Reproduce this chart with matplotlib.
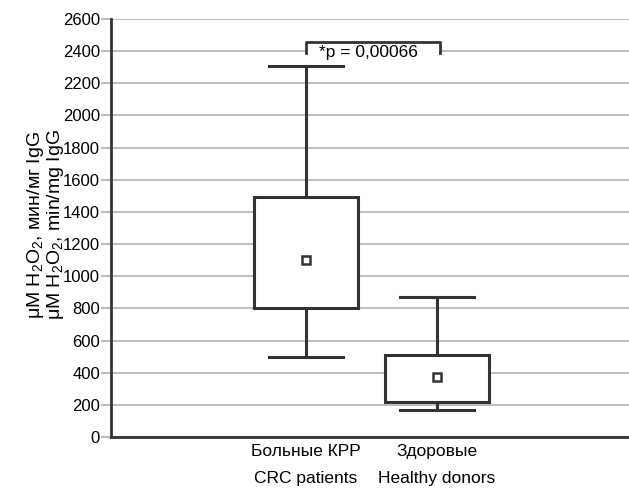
import matplotlib
matplotlib.use("Agg")
import matplotlib.pyplot as plt
from matplotlib.patches import Rectangle

groups = ["Больные КРР\nCRC patients", "Здоровые\nHealthy donors"]
q1 = [800, 220]
q3 = [1490, 510]
med = [1100, 375]
whislo = [500, 170]
whishi = [2310, 870]
yticks = list(range(0, 2601, 200))
ptext = "*p = 0,00066"

fam = ["Liberation Sans Narrow", "Liberation Sans", "DejaVu Sans"]
plt.rcParams['font.family'] = fam
plt.rcParams['mathtext.fontset'] = 'custom'
plt.rcParams['mathtext.rm'] = 'Liberation Sans'
plt.rcParams['mathtext.it'] = 'Liberation Sans'

fig = plt.figure(figsize=(6.29, 4.91), dpi=100)
ax = fig.add_axes([111/629, 1-437/491, 1-111/629, (437-19)/491])

dark = "#333333"
stats = []
for i in range(len(groups)):
    stats.append(dict(med=med[i], q1=q1[i], q3=q3[i], whislo=whislo[i], whishi=whishi[i], fliers=[], label=groups[i]))

pos = [1, 2]
ax.bxp(stats, positions=pos, widths=0.79, showfliers=False, patch_artist=True,
       boxprops=dict(facecolor="white", edgecolor=dark, linewidth=2.2),
       whiskerprops=dict(color=dark, linewidth=2.2),
       capprops=dict(color=dark, linewidth=2.2),
       medianprops=dict(linewidth=0),
       capwidths=0.565, zorder=3)
ax.plot(pos, med, linestyle="none", marker="s", markersize=6, markerfacecolor="white",
        markeredgecolor=dark, markeredgewidth=1.8, zorder=5)

ax.set_xlim(-0.489, 3.466)
ax.set_ylim(0, 2600)
ax.set_yticks(yticks)
ax.set_yticklabels([str(t) for t in yticks], fontsize=12)
ax.set_xticks(pos)
ax.set_xticklabels(groups, fontsize=12.5, linespacing=2.0)
ax.tick_params(axis="x", length=0, pad=5)
ax.tick_params(axis="y", length=7, color="#bbbbbb", width=1.5, pad=1)
ax.yaxis.grid(True, color="#bfbfbf", linewidth=1.5, zorder=0)
ax.set_axisbelow(True)
for s in ["top", "right"]:
    ax.spines[s].set_visible(False)
for s in ["left", "bottom"]:
    ax.spines[s].set_color(dark)
    ax.spines[s].set_linewidth(2)

# significance bracket
xl, xr = 1.0, 2.02
ax.add_patch(Rectangle((xl, 2370), xr - xl, 2457 - 2370, facecolor="white", edgecolor="none", zorder=2))
ax.plot([xl, xl, xr, xr], [2388, 2457, 2457, 2388], color=dark, linewidth=2, zorder=4, clip_on=False)
ax.text((xl + xr) / 2 - 0.03, 2392, ptext, ha="center", va="center", fontsize=12.5, zorder=6)

fig.text(40/629, 1-225/491, "μM H$_2$O$_2$, мин/мг IgG", rotation=90, rotation_mode="anchor",
         ha="center", va="baseline", fontsize=14)
fig.text(60/629, 1-225/491, "μM H$_2$O$_2$, min/mg IgG", rotation=90, rotation_mode="anchor",
         ha="center", va="baseline", fontsize=14)

fig.savefig("out.png", dpi=100)
